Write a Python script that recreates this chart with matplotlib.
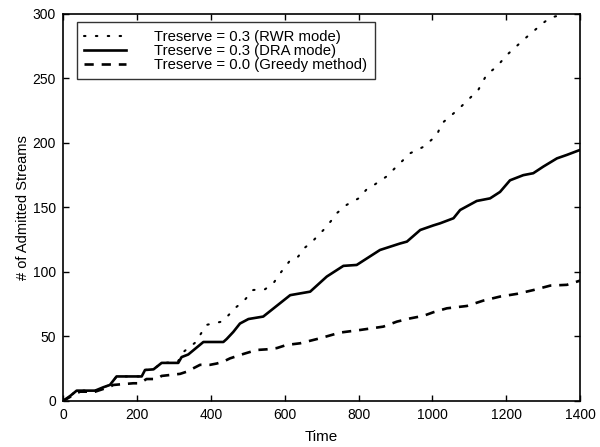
import matplotlib
matplotlib.use("Agg")
import matplotlib.pyplot as plt

plt.rcParams["font.family"] = ["Liberation Sans", "DejaVu Sans"]

# Treserve = 0.3 (DRA mode)
dra_t = [0, 20, 37, 87, 109, 127, 145, 213, 222, 245, 267, 312, 321, 339, 380,
         434, 443, 461, 479, 502, 542, 615, 669, 714, 759, 795, 858, 912, 931,
         967, 1002, 1021, 1057, 1075, 1120, 1156, 1183, 1210, 1246, 1273, 1300,
         1337, 1364, 1400]
dra_v = [0, 4, 8, 8, 10.6, 12.4, 19, 19, 24, 24.5, 29.5, 29.5, 34, 36, 45.7,
         45.7, 48, 53.5, 60, 63.5, 65.4, 82, 84.7, 96.4, 104.7, 105.4, 117, 122,
         123.5, 132.5, 136, 137.7, 141.6, 148, 155, 157, 162, 171, 175, 176.5,
         181.6, 188, 190.7, 194.6]

# Treserve = 0.3 (RWR mode)
rwr_t = [0, 20, 37, 87, 109, 127, 145, 213, 222, 245, 267, 310, 326, 357, 389,
         430, 443, 470, 488, 515, 547, 569, 588, 615, 637, 651, 673, 705, 727,
         741, 768, 800, 822, 840, 876, 904, 940, 976, 1012, 1025, 1070, 1124,
         1147, 1174, 1201, 1251, 1300, 1319, 1346, 1370]
rwr_v = [0, 4, 8, 8, 10.6, 12.4, 19, 19, 24, 24.5, 29.5, 30, 38, 45, 59,
         61.5, 65, 73, 77, 86, 86.6, 91, 99, 109, 112, 118, 123, 132.5, 140,
         145.5, 152, 157, 164, 167, 174, 182, 192, 197, 206, 215, 226, 241,
         253, 259, 268, 281, 293, 297, 299, 306]

# Treserve = 0.0 (Greedy method)
greedy_t = [0, 28, 46, 87, 127, 136, 190, 208, 226, 254, 267, 317, 335, 371,
            398, 416, 434, 452, 488, 524, 551, 579, 605, 642, 696, 750, 804,
            867, 904, 940, 976, 1003, 1039, 1093, 1138, 1183, 1229, 1274, 1319,
            1364, 1400]
greedy_v = [0, 4.6, 7.2, 7.2, 11, 12.4, 13.7, 13.7, 17, 17, 19.4, 21, 22.7, 28,
            28, 29, 30.5, 33, 36.4, 39.5, 40, 41, 43.4, 44.7, 48.6, 53, 55,
            57.6, 61.5, 64, 66, 68.8, 71.8, 73.6, 77.8, 80.9, 83, 86, 89.4,
            90, 93.3]

fig = plt.figure(figsize=(6.0, 4.47), dpi=100)
ax = fig.add_axes([0.105, 0.103, 0.862, 0.866])

ax.plot(rwr_t, rwr_v, color="black", lw=1.5, linestyle=(0, (0.7, 5)),
        dash_capstyle="round", label="Treserve = 0.3 (RWR mode)")
ax.plot(dra_t, dra_v, color="black", lw=1.9, label="Treserve = 0.3 (DRA mode)")
ax.plot(greedy_t, greedy_v, color="black", lw=1.9, linestyle=(0, (3.5, 3)),
        label="Treserve = 0.0 (Greedy method)")

ax.set_xlim(0, 1400)
ax.set_ylim(0, 300)
ax.set_xticks(range(0, 1401, 200))
ax.set_yticks(range(0, 301, 50))
ax.tick_params(direction="in", top=True, right=True, labelsize=10, length=4,
               width=1, pad=5)
for s in ax.spines.values():
    s.set_linewidth(1.2)

ax.set_xlabel("Time", fontsize=11, labelpad=6)
ax.set_ylabel("# of Admitted Streams", fontsize=10.5, labelpad=2)

leg = ax.legend(loc="upper left", bbox_to_anchor=(0.027, 0.978), fontsize=10.7,
                frameon=True, fancybox=False, handlelength=2.8,
                borderpad=0.5, labelspacing=0.0, handletextpad=1.9,
                borderaxespad=0)
leg.get_frame().set_edgecolor("black")
leg.get_frame().set_linewidth(1.0)

fig.savefig("out.png", dpi=100)
